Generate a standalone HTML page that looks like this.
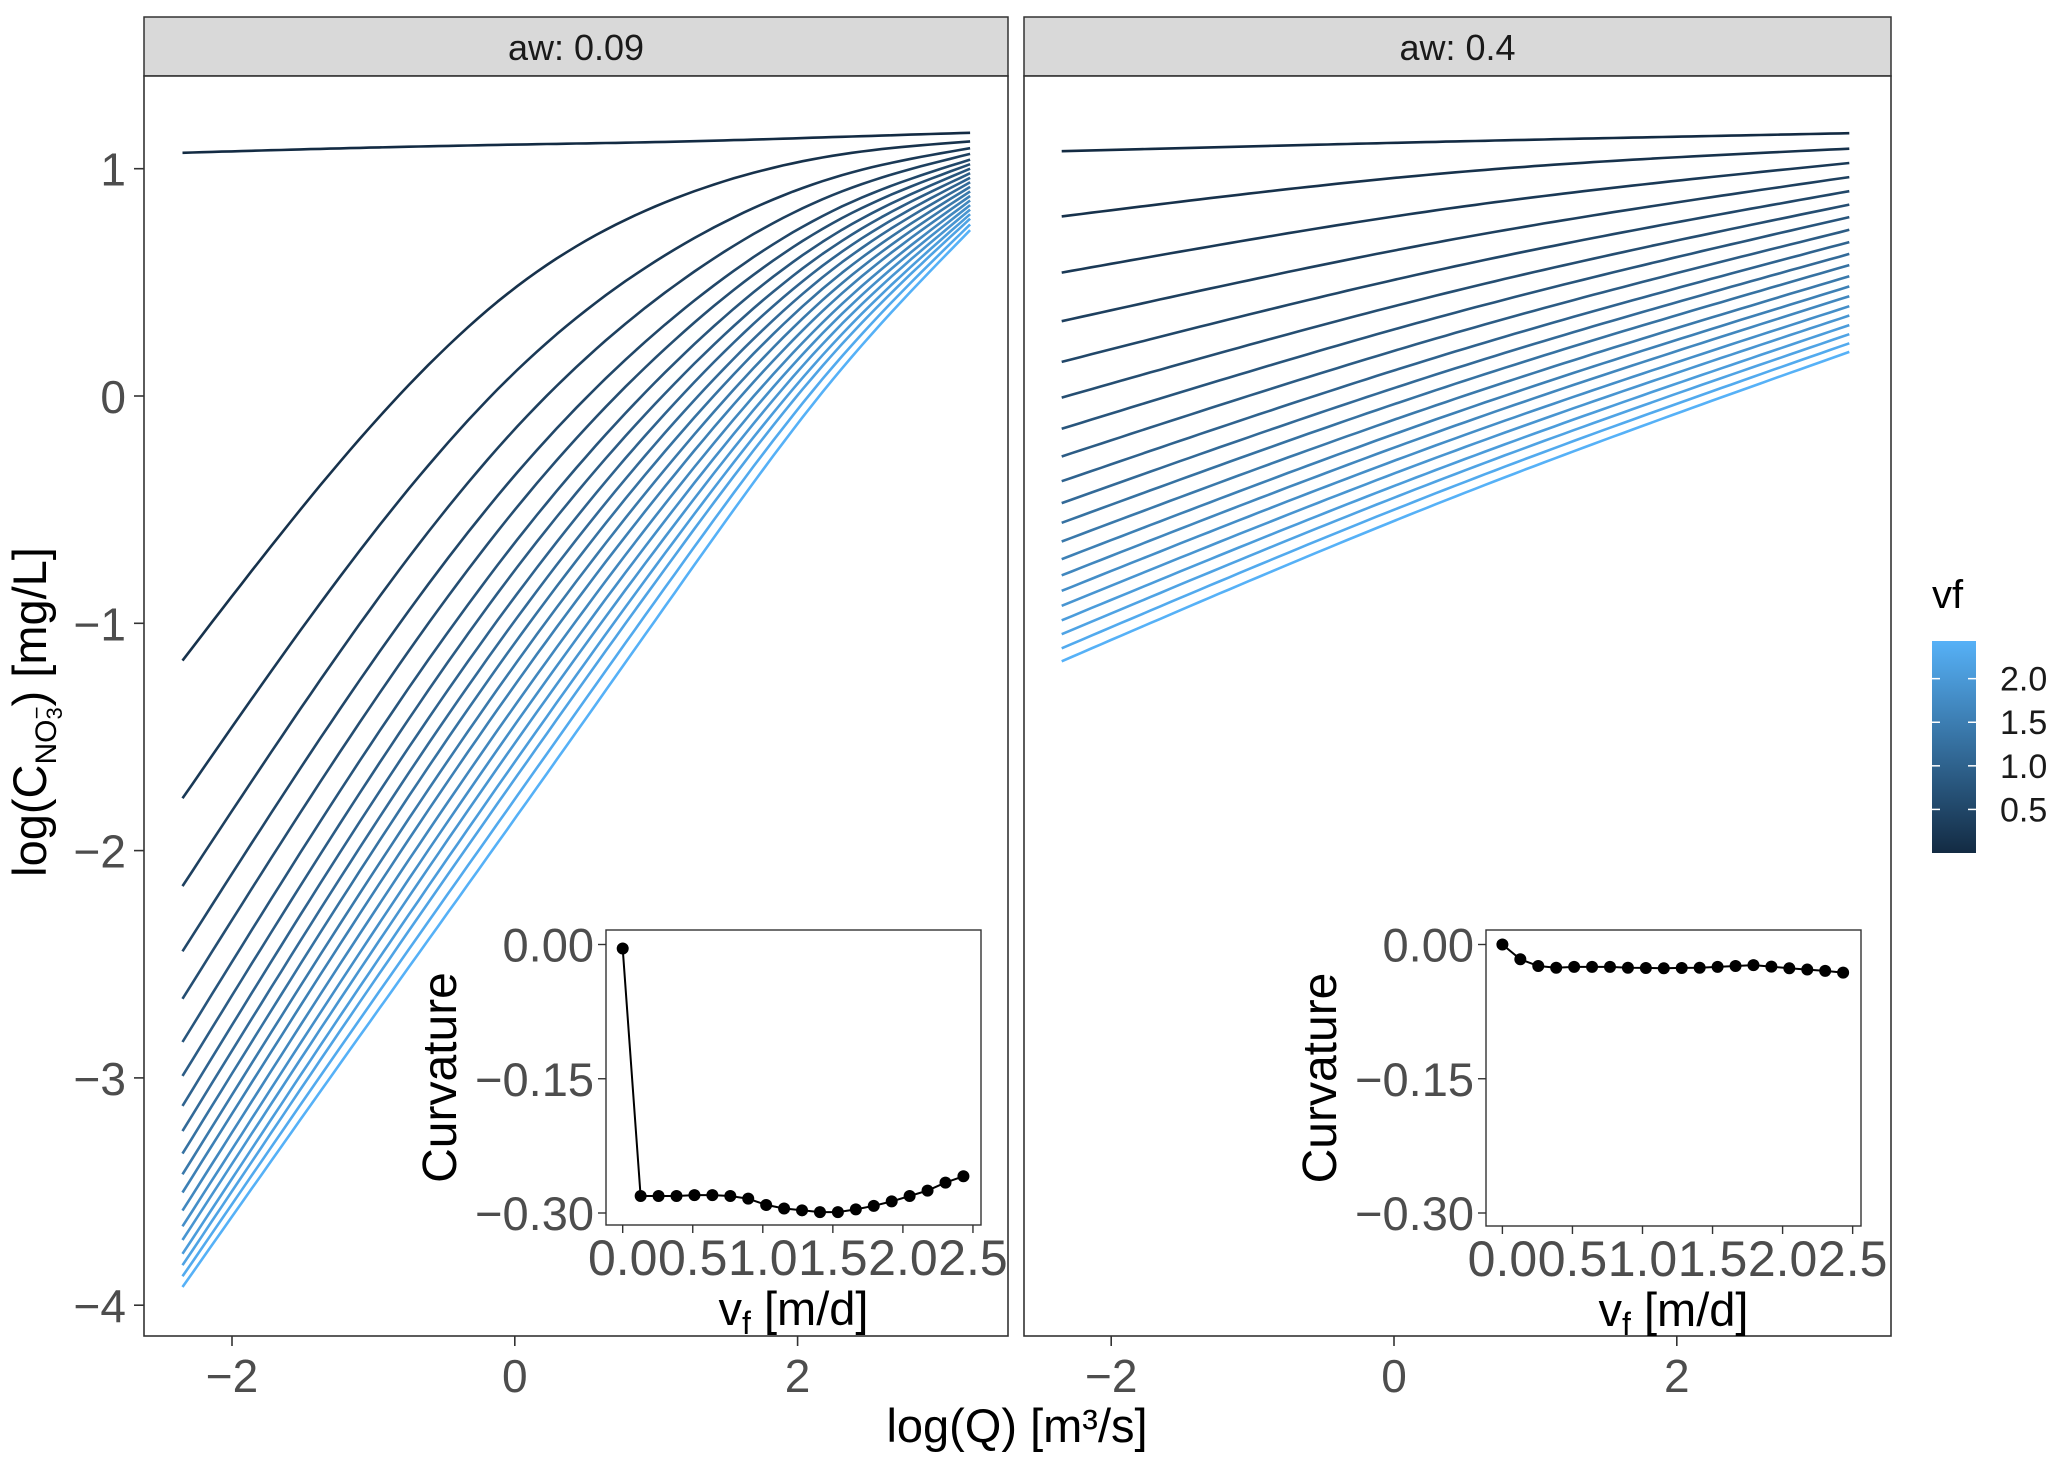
<!DOCTYPE html>
<html><head><meta charset="utf-8">
<style>
html,body{margin:0;padding:0;background:#fff;}
svg{display:block;font-family:"Liberation Sans",Arial,sans-serif;}
</style></head>
<body>
<svg id="chart" width="2067" height="1477" viewBox="0 0 2067 1477" xmlns="http://www.w3.org/2000/svg">
<defs>
<linearGradient id="vfgrad" x1="0" y1="1" x2="0" y2="0">
<stop offset="0" stop-color="#132B43"/><stop offset="1" stop-color="#56B1F7"/>
</linearGradient>
</defs>
<g id="root"></g>
</svg>
<script>
// ---- data ----
const vfValues = [0,0.128,0.256,0.384,0.512,0.64,0.768,0.896,1.024,1.152,1.28,1.408,1.536,1.664,1.792,1.92,2.048,2.176,2.304,2.432];
const leftX = [-2.35,-1.2,0,1.2,2.3,3.22];
const leftCurves = [
 [1.07,1.09,1.106,1.12,1.14,1.158],
 [-1.164,-0.263,0.475,0.885,1.062,1.12],
 [-1.77,-0.765,0.104,0.67,0.969,1.09],
 [-2.156,-1.093,-0.146,0.517,0.897,1.065],
 [-2.443,-1.344,-0.349,0.385,0.83,1.04],
 [-2.652,-1.532,-0.501,0.285,0.778,1.02],
 [-2.842,-1.703,-0.646,0.187,0.726,1.0],
 [-2.991,-1.846,-0.767,0.099,0.677,0.98],
 [-3.123,-1.973,-0.884,0.015,0.629,0.96],
 [-3.234,-2.087,-0.989,-0.066,0.582,0.94],
 [-3.333,-2.19,-1.087,-0.144,0.535,0.92],
 [-3.424,-2.288,-1.183,-0.22,0.489,0.90],
 [-3.504,-2.377,-1.272,-0.293,0.444,0.88],
 [-3.584,-2.465,-1.363,-0.367,0.397,0.86],
 [-3.653,-2.547,-1.447,-0.438,0.353,0.84],
 [-3.713,-2.621,-1.528,-0.508,0.309,0.82],
 [-3.774,-2.695,-1.61,-0.577,0.263,0.80],
 [-3.824,-2.761,-1.685,-0.644,0.219,0.78],
 [-3.873,-2.835,-1.774,-0.724,0.165,0.755],
 [-3.92,-2.906,-1.86,-0.805,0.111,0.73]
];
const rightX = [-2.35,0.435,3.22];
const rightCurves = [
 [1.077,1.12,1.156],[0.79,0.984,1.088],[0.543,0.829,1.025],[0.329,0.691,0.963],
 [0.15,0.571,0.901],[-0.007,0.463,0.842],[-0.144,0.367,0.787],[-0.266,0.278,0.731],
 [-0.375,0.196,0.677],[-0.471,0.122,0.625],[-0.558,0.054,0.576],[-0.64,-0.012,0.527],
 [-0.718,-0.073,0.482],[-0.789,-0.13,0.439],[-0.857,-0.186,0.395],[-0.923,-0.24,0.354],
 [-0.987,-0.293,0.312],[-1.048,-0.343,0.272],[-1.11,-0.394,0.232],[-1.167,-0.442,0.194]
];
const leftCurvature = [-0.0045,-0.281,-0.281,-0.281,-0.28,-0.28,-0.281,-0.284,-0.291,-0.295,-0.297,-0.299,-0.299,-0.296,-0.292,-0.287,-0.281,-0.275,-0.266,-0.259];
const rightCurvature = [0,-0.0165,-0.024,-0.026,-0.025,-0.025,-0.025,-0.026,-0.0262,-0.0266,-0.0262,-0.026,-0.025,-0.024,-0.023,-0.0247,-0.0266,-0.028,-0.0295,-0.0314];
const xTicks = [-2,0,2];
const yTicks = [1,0,-1,-2,-3,-4];
const insetYTicks = [0,-0.15,-0.30];
const insetYLabels = ["0.00","\u22120.15","\u22120.30"];
const insetXTicks = [0,0.5,1,1.5,2,2.5];
const insetXLabels = ["0.0","0.5","1.0","1.5","2.0","2.5"];
const legendTicks = [0.5,1.0,1.5,2.0];
const legendLabels = ["0.5","1.0","1.5","2.0"];

// ---- layout ----
const NS="http://www.w3.org/2000/svg";
const root=document.getElementById('root');
function mk(tag,attrs,parent){const e=document.createElementNS(NS,tag);for(const k in attrs)e.setAttribute(k,attrs[k]);(parent||root).appendChild(e);return e;}
const PT=76, PB=1336;
const panels=[{L:144,R:1008,x0:514.8,label:"aw: 0.09",xs:leftX,curves:leftCurves,curv:leftCurvature,inset:{L:606,R:981,T:930,B:1225,vx0:622.7},name:"aw-0.09"},
              {L:1024,R:1891,x0:1394,label:"aw: 0.4",xs:rightX,curves:rightCurves,curv:rightCurvature,inset:{L:1486,R:1861,T:930,B:1226,vx0:1502.4},name:"aw-0.4"}];
const XS=141.4, YS=227.3;
function yOf(v){return 168.7+(1-v)*YS;}
function hex(n){return n.toString(16).padStart(2,'0');}
const cLo=[0x13,0x2B,0x43], cHi=[0x56,0xB1,0xF7], vfMax=2.432;
function colorOf(vf){const t=vf/vfMax;return '#'+cLo.map((c,i)=>hex(Math.round(c+(cHi[i]-c)*t))).join('');}
// natural cubic spline through (xs, ys), returns evaluator
function spline(xs,ys){
  const n=xs.length;
  if(n<3){return x=>ys[0]+(ys[1]-ys[0])*(x-xs[0])/(xs[1]-xs[0]);}
  const h=[],a=[],l=[1],mu=[0],z=[0],c=new Array(n).fill(0),b=[],d=[];
  for(let i=0;i<n-1;i++)h.push(xs[i+1]-xs[i]);
  for(let i=1;i<n-1;i++)a[i]=3/h[i]*(ys[i+1]-ys[i])-3/h[i-1]*(ys[i]-ys[i-1]);
  for(let i=1;i<n-1;i++){l[i]=2*(xs[i+1]-xs[i-1])-h[i-1]*mu[i-1];mu[i]=h[i]/l[i];z[i]=(a[i]-h[i-1]*z[i-1])/l[i];}
  l[n-1]=1;z[n-1]=0;
  for(let j=n-2;j>=0;j--){c[j]=z[j]-mu[j]*c[j+1];b[j]=(ys[j+1]-ys[j])/h[j]-h[j]*(c[j+1]+2*c[j])/3;d[j]=(c[j+1]-c[j])/(3*h[j]);}
  return x=>{let j=0;while(j<n-2&&x>xs[j+1])j++;const t=x-xs[j];return ys[j]+b[j]*t+c[j]*t*t+d[j]*t*t*t;};
}

panels.forEach((p,pi)=>{
  const g=mk('g',{});
  
  
  const strip=mk('rect',{x:p.L,y:17,width:p.R-p.L,height:PT-17,fill:'#d9d9d9',stroke:'#333',"stroke-width":1.5},g);
  
  
  const st=mk('text',{x:(p.L+p.R)/2,y:60,"text-anchor":"middle","font-size":36,fill:'#1a1a1a'},g);
  st.textContent=p.label;
  
  
  mk('rect',{x:p.L,y:PT,width:p.R-p.L,height:PB-PT,fill:'#fff'},g);
  // curves
  p.curves.forEach((vals,i)=>{
    const f=spline(p.xs,vals);
    const x0=p.xs[0],x1=p.xs[p.xs.length-1];
    let d='';
    for(let s=0;s<=80;s++){
      const xv=x0+(x1-x0)*s/80;
      d+=(s?' L':'M')+(p.x0+XS*xv).toFixed(1)+','+yOf(f(xv)).toFixed(1);
    }
    const path=mk('path',{d:d,fill:'none',stroke:colorOf(vfValues[i]),"stroke-width":2.6,"stroke-linejoin":"round"},g);
    
    
  });
  mk('rect',{x:p.L,y:PT,width:p.R-p.L,height:PB-PT,fill:'none',stroke:'#333',"stroke-width":1.6},g);
  // x ticks
  xTicks.forEach(t=>{
    const x=p.x0+XS*t;
    mk('line',{x1:x,x2:x,y1:PB,y2:PB+10,stroke:'#333',"stroke-width":1.6},g);
    const tx=mk('text',{x:x,y:PB+56,"text-anchor":"middle","font-size":46,fill:'#4d4d4d'},g);
    tx.textContent=t<0?'\u2212'+Math.abs(t):String(t);
    
    
  });
  if(pi===0){
    yTicks.forEach(t=>{
      const y=yOf(t);
      mk('line',{x1:p.L-10,x2:p.L,y1:y,y2:y,stroke:'#333',"stroke-width":1.6},g);
      const tx=mk('text',{x:p.L-18,y:y+17,"text-anchor":"end","font-size":46,fill:'#4d4d4d'},g);
      tx.textContent=t<0?'\u2212'+Math.abs(t):String(t);
      
      
    });
  }
  // inset
  const I=p.inset;
  const ig=mk('g',{},g);
  
  
  const iy=v=>944.5-v/0.3*268.5;
  const ix=v=>I.vx0+140.1*v;
  mk('rect',{x:I.L,y:I.T,width:I.R-I.L,height:I.B-I.T,fill:'#fff',stroke:'#333',"stroke-width":1.4},ig);
  insetYTicks.forEach((t,k)=>{
    const y=iy(t);
    mk('line',{x1:I.L-8,x2:I.L,y1:y,y2:y,stroke:'#333',"stroke-width":1.4},ig);
    const tx=mk('text',{x:I.L-12,y:y+17,"text-anchor":"end","font-size":47,fill:'#4d4d4d'},ig);
    tx.textContent=insetYLabels[k];
    
    
  });
  insetXTicks.forEach((t,k)=>{
    const x=ix(t);
    mk('line',{x1:x,x2:x,y1:I.B,y2:I.B+8,stroke:'#333',"stroke-width":1.4},ig);
    const tx=mk('text',{x:x,y:I.B+50,"text-anchor":"middle","font-size":50,fill:'#4d4d4d'},ig);
    tx.textContent=insetXLabels[k];
    
    
  });
  const lp=p.curv.map((v,k)=>`${ix(vfValues[k]).toFixed(1)},${iy(v).toFixed(1)}`).join(' ');
  const pl=mk('polyline',{points:lp,fill:'none',stroke:'#000',"stroke-width":2},ig);
  
  
  p.curv.forEach((v,k)=>{
    const c=mk('circle',{cx:ix(vfValues[k]),cy:iy(v),r:6,fill:'#000'},ig);
    
    
  });
  const yt=mk('text',{x:0,y:0,transform:`translate(${I.L-150},${(I.T+I.B)/2}) rotate(-90)`,"text-anchor":"middle","font-size":48,fill:'#000'},ig);
  yt.textContent='Curvature';
  
  
  const xt=mk('text',{x:(I.L+I.R)/2,y:I.B+100,"text-anchor":"middle","font-size":47,fill:'#000'},ig);
  xt.innerHTML='v<tspan font-size="32" dy="9">f</tspan><tspan dy="-9"> [m/d]</tspan>';
  
  
});

// axis titles
const xTitle=mk('text',{x:1017,y:1442,"text-anchor":"middle","font-size":47,fill:'#000'});
xTitle.textContent='log(Q) [m³/s]';


const yTitle=mk('text',{x:0,y:0,transform:'translate(46,712) rotate(-90)',"text-anchor":"middle","font-size":47,fill:'#000'});
yTitle.innerHTML='log(C<tspan font-size="30" dy="10">NO</tspan><tspan font-size="22" dy="6">3</tspan><tspan font-size="22" dx="-12" dy="-18">−</tspan><tspan dy="2">) [mg/L]</tspan>';



// legend
const lg=mk('g',{});


const lt=mk('text',{x:1932,y:608,"font-size":40,fill:'#000'},lg);
lt.textContent='vf';


const barT=641,barB=853,barL=1932,barR=1976;
mk('rect',{x:barL,y:barT,width:barR-barL,height:barB-barT,fill:'url(#vfgrad)'},lg);
legendTicks.forEach((t,k)=>{
  const y=barB-(t/vfMax)*(barB-barT);
  mk('line',{x1:barL,x2:barL+8,y1:y,y2:y,stroke:'#fff',"stroke-width":1.5},lg);
  mk('line',{x1:barR-8,x2:barR,y1:y,y2:y,stroke:'#fff',"stroke-width":1.5},lg);
  const tx=mk('text',{x:2000,y:y+12,"font-size":34,fill:'#1a1a1a'},lg);
  tx.textContent=legendLabels[k];
  
  
});
</script>
</body></html>
